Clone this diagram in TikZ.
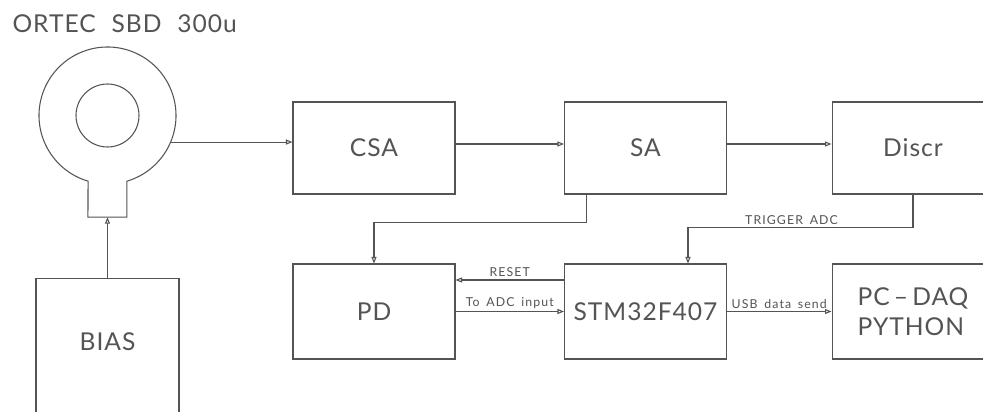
\documentclass[tikz,border=0pt]{standalone}
\usepackage{fontspec}
\setmainfont{Lato}
\newfontfamily\cadbig[LetterSpace=4]{Lato}
\newfontfamily\cadsmall[LetterSpace=9, WordSpace=1.6]{Lato}
\usetikzlibrary{arrows.meta, positioning, calc}
\definecolor{cadgray}{gray}{0.33}

\begin{document}
\begin{tikzpicture}[
  x=0.02cm, y=-0.02cm,
  color=cadgray, line width=0.6pt,
  blk/.style={rectangle, draw, minimum width=3.24cm, minimum height=1.84cm, inner sep=0pt, font=\cadbig\fontsize{14}{17}\selectfont},
  txt/.style={font=\cadbig\fontsize{14}{17}\selectfont, inner sep=0pt},
  lbl/.style={font=\cadsmall\fontsize{7}{8}\selectfont, inner sep=1.5pt},
  arr/.style={-{Triangle[open, length=1.3mm, width=1mm]}}
]
  \fill[white] (0,0) rectangle (983,412);
  \useasboundingbox (0,0) rectangle (983,412);
  \clip (0,0) rectangle (983,412);

  % Detector
  \node[txt, anchor=base west] (title) at (12,33) {ORTEC\hspace{9pt}SBD\hspace{9pt}300u};
  \coordinate (sbd) at (107.5,115.5);
  \draw (sbd) ++(106.5:68.5) arc[start angle=106.5, end angle=433.5, radius=68.5]
    -- ++(0,36) -- ++(-39,0) -- cycle;
  \draw (sbd) circle[radius=31.5];
  \coordinate (sbdout) at ($(sbd)+(22.8:68.5)$);
  \coordinate (neck) at ($(sbd)+(0,101.7)$);

  % Blocks
  \node[blk] (csa) at (374,148) {CSA};
  \node[blk] (sa) at (645.5,148) {SA};
  \node[blk] (discr) at (913,148) {Discr};
  \node[blk, minimum height=1.9cm] (pd) at (374,311.5) {PD};
  \node[blk, minimum height=1.9cm] (stm) at (645.5,311.5) {STM32F407};
  \node[blk, minimum height=1.9cm, align=left] (pc) at (913,311.5) {PC\,\textendash\,DAQ\\PYTHON};
  \node[blk, minimum width=2.86cm, minimum height=3cm, anchor=north] (bias) at (107.5,278) {};
  \node[txt] (biastxt) at (107.5,342) {BIAS};

  % Signal chain
  \draw[arr] (sbdout) -- (sbdout -| csa.west);
  \foreach \a/\b in {csa/sa, sa/discr} {
    \draw[arr] ($(\a.east)+(0,-4)$) -- ($(\b.west)+(0,-4)$);
  }
  \draw[arr] (bias.north) -- (neck);
  \draw[arr] ($(sa.south)+(-59,0)$) -- ++(0,28) -| (pd.north);
  \draw[arr] (discr.south) -- ++(0,33)
    -| node[lbl, pos=0.27, above] (trig) {TRIGGER ADC} ($(stm.north)+(42.5,0)$);

  % Readout
  \draw[arr] ($(stm.west)+(0,-31.5)$) -- node[lbl, above] (rst) {RESET} ($(pd.east)+(0,-31.5)$);
  \draw[arr] (pd.east) -- node[lbl, above] (adc) {To ADC input} (stm.west);
  \draw[arr] (stm.east) -- node[lbl, above] (usb) {USB data send} (pc.west);
\end{tikzpicture}
\end{document}
